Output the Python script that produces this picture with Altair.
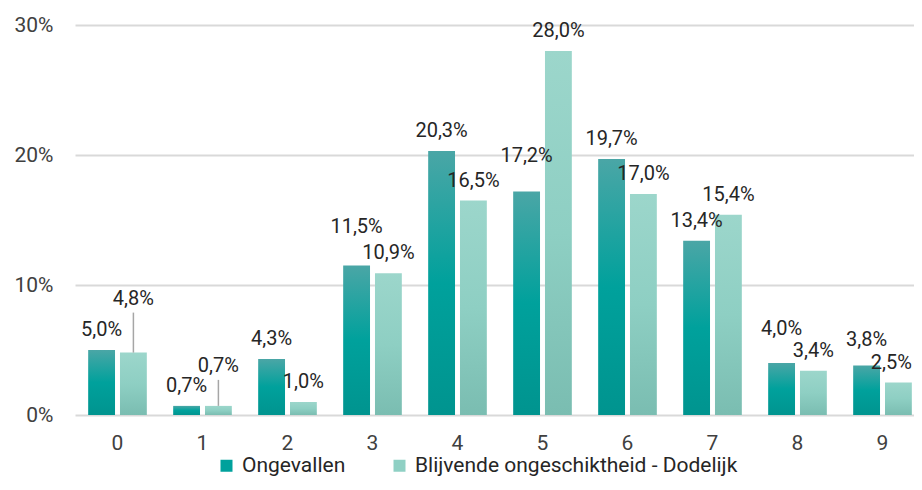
import altair as alt
import pandas as pd

categories = ["0", "1", "2", "3", "4", "5", "6", "7", "8", "9"]
series_names = ["Ongevallen", "Blijvende ongeschiktheid - Dodelijk"]
ongevallen = [5.0, 0.7, 4.3, 11.5, 20.3, 17.2, 19.7, 13.4, 4.0, 3.8]
blijvend = [4.8, 0.7, 1.0, 10.9, 16.5, 28.0, 17.0, 15.4, 3.4, 2.5]
y_ticks = [0, 10, 20, 30]

# extra upward shift (px) of some data labels, as in the original layout
lift_ong = [0, 0, 0, 19, 0, 15, 0, 0, 14, 6]
lift_blij = [34, 20, 0, 0, 0, 0, 0, 0, 0, 0]
# labels nudged left so they stay inside the page
nudge_blij = [0, 0, 0, 0, 0, 0, 0, 0, 0, 1]

rows = []
for s, vals, lifts, nudges in ((series_names[0], ongevallen, lift_ong, [0] * 10),
                               (series_names[1], blijvend, lift_blij, nudge_blij)):
    for c, v, l, n in zip(categories, vals, lifts, nudges):
        rows.append({"cat": c, "series": s, "value": v, "lift": l, "nudge": n,
                     "label": f"{v:.1f}".replace(".", ",") + "%"})
df = pd.DataFrame(rows)

PX = 13  # pixels per percentage point (390 px / 30)

x_enc = alt.X("cat:N", sort=categories,
              scale=alt.Scale(paddingInner=0.31, paddingOuter=0.155),
              axis=alt.Axis(title=None, labelAngle=0, labelFontSize=21,
                            labelColor="#404040", labelPadding=17,
                            ticks=False, tickSize=0, domain=False, grid=False))
xo_enc = alt.XOffset("series:N", sort=series_names,
                     scale=alt.Scale(domain=series_names, paddingInner=0.156,
                                     paddingOuter=0))
y_scale = alt.Scale(domain=[0, 30], nice=False)
y_enc = alt.Y("value:Q", scale=y_scale,
              axis=alt.Axis(values=y_ticks, labelExpr="datum.value + '%'",
                            title=None, ticks=False, domain=False,
                            gridColor="#d9d9d9", gridWidth=2,
                            labelFontSize=21, labelPadding=22,
                            labelColor="#404040"))

grad1 = alt.Gradient(gradient="linear", x1=0, x2=0, y1=0, y2=1, stops=[
    alt.GradientStop(color="#4aa6a6", offset=0),
    alt.GradientStop(color="#00a19c", offset=0.5),
    alt.GradientStop(color="#00948f", offset=1)])
grad2 = alt.Gradient(gradient="linear", x1=0, x2=0, y1=0, y2=1, stops=[
    alt.GradientStop(color="#9cd6cb", offset=0),
    alt.GradientStop(color="#8ecfc3", offset=0.5),
    alt.GradientStop(color="#7abdb1", offset=1)])

base = alt.Chart(df)

bars1 = base.transform_filter(alt.datum.series == series_names[0]).mark_bar(
    color=grad1).encode(x=x_enc, xOffset=xo_enc, y=y_enc)
bars2 = base.transform_filter(alt.datum.series == series_names[1]).mark_bar(
    color=grad2).encode(x=x_enc, xOffset=xo_enc, y=y_enc)

leaders = base.transform_filter(
    (alt.datum.series == series_names[1]) & (alt.datum.lift > 0)
).transform_calculate(
    top=f"datum.value + (6 + datum.lift) / {PX}"
).mark_rule(color="#a6a6a6", strokeWidth=1.5).encode(
    x=x_enc, xOffset=xo_enc, y=alt.Y("value:Q", scale=y_scale), y2="top:Q")

label_base = base.transform_calculate(
    ly=f"datum.value + (14 + datum.lift) / {PX}")
labels = label_base.transform_filter(alt.datum.nudge == 0).mark_text(
    fontSize=20, color="#262626", baseline="alphabetic", align="center"
).encode(x=x_enc, xOffset=xo_enc, y=alt.Y("ly:Q", scale=y_scale),
         text="label:N")
labels_nudged = label_base.transform_filter(alt.datum.nudge == 1).mark_text(
    fontSize=20, color="#262626", baseline="alphabetic", align="center", dx=-7
).encode(x=x_enc, xOffset=xo_enc, y=alt.Y("ly:Q", scale=y_scale),
         text="label:N")

legend_layer = base.transform_filter("false").mark_square().encode(
    color=alt.Color("series:N",
                    scale=alt.Scale(domain=series_names,
                                    range=["#00a19c", "#8fd0c4"]),
                    legend=alt.Legend(title=None, orient="none", legendX=141,
                                      legendY=430, direction="horizontal",
                                      symbolType="square", symbolSize=144,
                                      symbolOpacity=1, symbolStrokeWidth=0,
                                      labelFontSize=21, labelColor="#262626",
                                      labelLimit=500,
                                      columnPadding=43, labelOffset=5,
                                      padding=0)))

chart = alt.layer(bars1, bars2, leaders, labels, labels_nudged,
                  legend_layer).properties(
    width=850, height=390,
    autosize=alt.AutoSizeParams(type="none"),
    padding={"left": 67, "top": 17, "right": -11, "bottom": 63},
).configure(font="Roboto").configure_view(stroke=None)

chart.save("out.html", embed_options={"renderer": "svg", "actions": False})
